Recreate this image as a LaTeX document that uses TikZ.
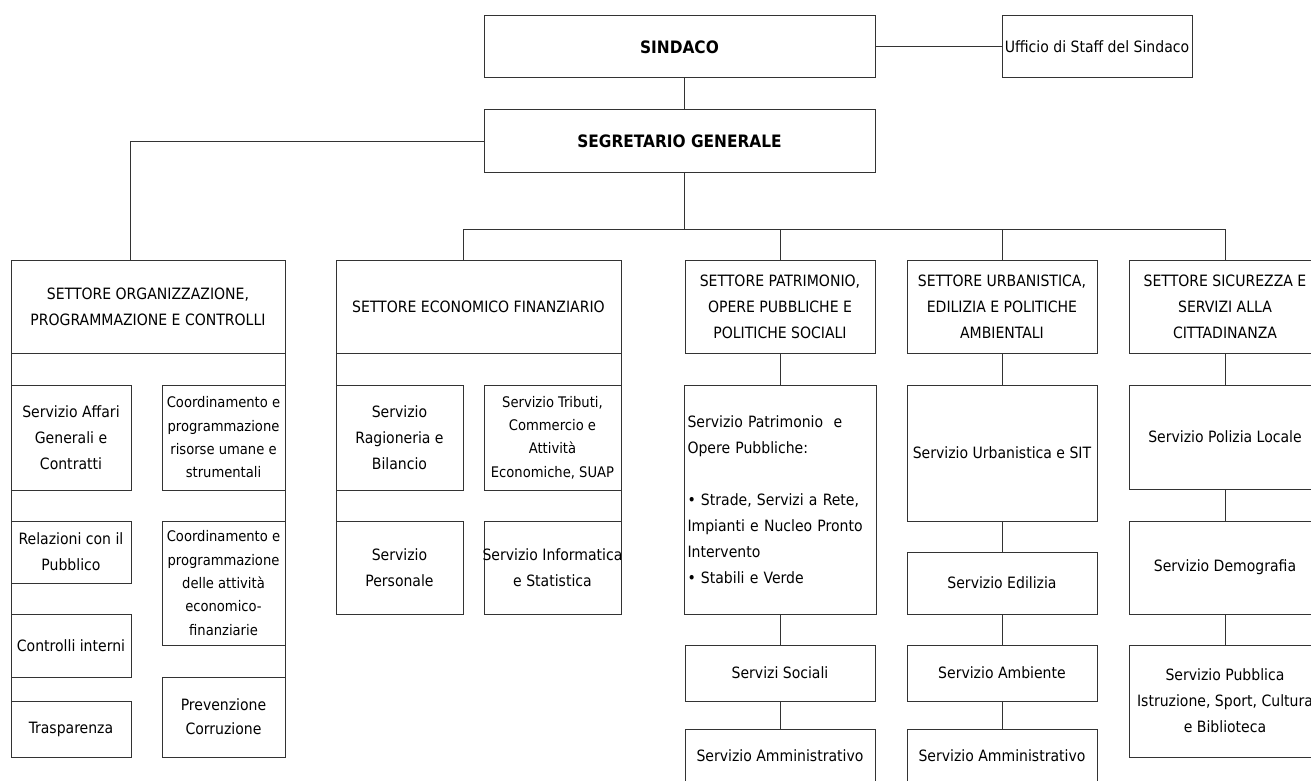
\documentclass[tikz,border=0pt]{standalone}
\usepackage{fontspec}
\setmainfont{DejaVu Sans Condensed}
\newcommand\fsreg{\fontsize{15.6}{26}\selectfont}
\newcommand\fsmid{\fontsize{15.6}{24}\selectfont}
\newcommand\fstight{\fontsize{14.6}{23.3}\selectfont}
\newcommand\fsbold{\fontsize{17.1}{26}\selectfont\bfseries}
\tikzset{
  boxshape/.style={draw=black!80, line width=1pt, rectangle, inner sep=0pt, outer sep=0pt, anchor=north west},
  bx/.style={align=center, font=\fsreg, inner sep=0pt},
  midbx/.style={bx, font=\fsmid},
  tightbx/.style={bx, font=\fstight},
  boldbx/.style={bx, font=\fsbold},
  leftbx/.style={bx, align=left, text width=185pt},
  ln/.style={draw=black!80, line width=1pt},
}
% name, x1, y1, x2, y2, text style, text
\newcommand\ob[7]{\node[boxshape, minimum width={#4-#2}, minimum height={#5-#3},
  label={[#6]center:{#7}}] (#1) at (#2,#3) {};}
\begin{document}
\begin{tikzpicture}[x=1pt,y=-1pt]
\useasboundingbox (0,0) rectangle (1311,781);
\clip (0,0) rectangle (1311,781);
% top
\ob{sind}{484}{16}{875}{78}{boldbx}{SINDACO}
\ob{uff}{1002}{16}{1192}{78}{bx}{Ufficio di Staff del Sindaco}
\ob{seg}{484}{110}{875}{172}{boldbx}{SEGRETARIO GENERALE}
% settore organizzazione
\ob{orgh}{11}{260}{285}{353}{bx}{SETTORE ORGANIZZAZIONE,\\PROGRAMMAZIONE E CONTROLLI}
\ob{o1}{11}{385}{131}{490}{bx}{Servizio Affari\\Generali e\\Contratti}
\ob{o2}{162}{385}{285}{490}{tightbx}{Coordinamento e\\programmazione\\risorse umane e\\strumentali}
\ob{o3}{11}{521}{131}{583}{bx}{Relazioni con il\\Pubblico}
\ob{o4}{162}{521}{285}{645}{tightbx}{Coordinamento e\\programmazione\\delle attività\\economico-\\finanziarie}
\ob{o5}{11}{614}{131}{677}{bx}{Controlli interni}
\ob{o6}{11}{701}{131}{757}{bx}{Trasparenza}
\ob{o7}{162}{677}{285}{757}{midbx}{Prevenzione\\Corruzione}
% settore economico
\ob{ech}{336}{260}{621}{353}{bx}{SETTORE ECONOMICO FINANZIARIO}
\ob{e1}{336}{385}{463}{490}{bx}{Servizio\\Ragioneria e\\Bilancio}
\ob{e2}{484}{385}{621}{490}{tightbx}{Servizio Tributi,\\Commercio e\\Attività\\Economiche, SUAP}
\ob{e3}{336}{521}{463}{614}{bx}{Servizio\\Personale}
\ob{e4}{484}{521}{621}{614}{bx}{Servizio Informatica\\e Statistica}
% settore patrimonio
\ob{ph}{685}{260}{875}{353}{bx}{SETTORE PATRIMONIO,\\OPERE PUBBLICHE E\\POLITICHE SOCIALI}
\ob{p1}{684}{385}{876}{614}{leftbx}{Servizio Patrimonio\ \ e\\Opere Pubbliche:\\[26pt]• Strade, Servizi a Rete,\\Impianti e Nucleo Pronto\\Intervento\\• Stabili e Verde}
\ob{p2}{685}{645}{875}{701}{bx}{Servizi Sociali}
\ob{p3}{685}{729}{875}{783}{bx}{Servizio Amministrativo}
% settore urbanistica
\ob{uh}{907}{260}{1097}{353}{bx}{SETTORE URBANISTICA,\\EDILIZIA E POLITICHE\\AMBIENTALI}
\ob{u1}{907}{385}{1097}{521}{bx}{Servizio Urbanistica e SIT}
\ob{u2}{907}{552}{1097}{614}{bx}{Servizio Edilizia}
\ob{u3}{907}{645}{1097}{701}{bx}{Servizio Ambiente}
\ob{u4}{907}{729}{1097}{783}{bx}{Servizio Amministrativo}
% settore sicurezza
\ob{sh}{1129}{260}{1321}{353}{bx}{SETTORE SICUREZZA E\\SERVIZI ALLA\\CITTADINANZA}
\ob{s1}{1129}{385}{1321}{489}{bx}{Servizio Polizia Locale}
\ob{s2}{1129}{521}{1321}{614}{bx}{Servizio Demografia}
\ob{s3}{1129}{645}{1321}{757}{bx}{Servizio Pubblica\\Istruzione, Sport, Cultura\\e Biblioteca}
% side walls of the two grouped sectors
\draw[ln] (orgh.south west) -- (orgh.south west |- o6.south);
\draw[ln] (orgh.south east) -- (orgh.south east |- o7.south);
\draw[ln] (ech.south west) -- (ech.south west |- e3.south);
\draw[ln] (ech.south east) -- (ech.south east |- e4.south);
% connectors
\coordinate (trunk) at (684,0);
\coordinate (bus) at (0,229);
\coordinate (orgtap) at (130,0);
\coordinate (ectap) at (463,0);
\draw[ln] (sind.east) -- (uff.west);
\draw[ln] (sind.south -| trunk) -- (seg.north -| trunk);
\draw[ln] (seg.west) -| (orgtap |- orgh.north);
\draw[ln] (seg.south -| trunk) -- (trunk |- bus);
\draw[ln] (trunk |- bus) -| (ectap |- ech.north);
\draw[ln] (trunk |- bus) -| (ph.north);
\draw[ln] (trunk |- bus) -| (uh.north);
\draw[ln] (trunk |- bus) -| (sh.north);
\draw[ln] (ph.south) -- (p1.north -| ph.south);
\draw[ln] (p1.south -| ph.south) -- (p2.north);
\draw[ln] (p2.south) -- (p3.north);
\draw[ln] (uh.south) -- (u1.north);
\draw[ln] (u1.south) -- (u2.north);
\draw[ln] (u2.south) -- (u3.north);
\draw[ln] (u3.south) -- (u4.north);
\draw[ln] (sh.south) -- (s1.north);
\draw[ln] (s1.south) -- (s2.north);
\draw[ln] (s2.south) -- (s3.north);
\end{tikzpicture}
\end{document}
